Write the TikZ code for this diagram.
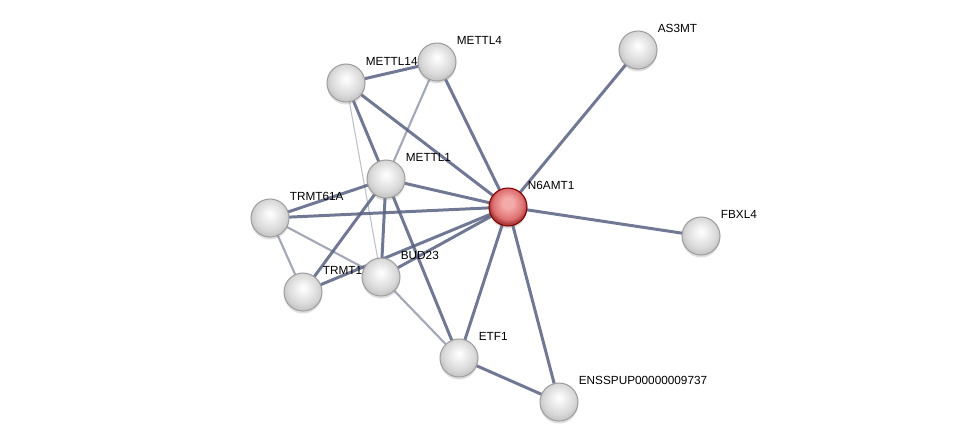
\documentclass[tikz,border=0pt]{standalone}
\usepackage{fontspec}
\setmainfont{Liberation Sans}
\usepackage{tikz}
\usetikzlibrary{backgrounds, shadows}

\definecolor{edgecol}{RGB}{88,96,128}
\definecolor{redlight}{RGB}{245,170,170}
\definecolor{redmid}{RGB}{222,112,112}
\definecolor{redrim}{RGB}{170,60,60}
\pgfdeclareradialshading{greysphere}{\pgfpoint{0bp}{6bp}}{color(0bp)=(white); color(6bp)=(gray!8); color(20bp)=(gray!30); color(25bp)=(gray!42); color(50bp)=(gray!45)}
\pgfdeclareradialshading{redsphere}{\pgfpoint{0bp}{6bp}}{color(0bp)=(redlight); color(7bp)=(redlight); color(20bp)=(redmid); color(25bp)=(redrim); color(50bp)=(redrim)}

\begin{document}
\begin{tikzpicture}[
    prot/.style={circle, minimum size=0.76cm, inner sep=0pt, draw=gray!75, line width=0.6pt, shading=greysphere,
        drop shadow={shadow xshift=0pt, shadow yshift=-0.05cm, opacity=0.25}},
    query/.style={prot, draw=red!50!black, shading=redsphere},
    lbl/.style={inner sep=0pt, label distance=0pt, yshift=0.44cm, font=\fontsize{6.7}{8}\selectfont},
    strong/.style={draw=edgecol, line width=1.7pt, opacity=0.85},
    medium/.style={draw=edgecol, line width=1.2pt, opacity=0.55},
    weak/.style={draw=edgecol, line width=0.6pt, opacity=0.4}
]
    \useasboundingbox (0,0) rectangle (19.52,-8.94);

    % Proteins
    \node[prot, label={[lbl]0:METTL4}] (mettl4) at (8.74,-1.24) {};
    \node[prot, label={[lbl]0:METTL14}] (mettl14) at (6.92,-1.66) {};
    \node[prot, label={[lbl]0:AS3MT}] (as3mt) at (12.76,-1.00) {};
    \node[prot, label={[lbl]0:METTL1}] (mettl1) at (7.72,-3.58) {};
    \node[query, label={[lbl]0:N6AMT1}] (n6amt1) at (10.16,-4.14) {};
    \node[prot, label={[lbl]0:TRMT61A}] (trmt61a) at (5.40,-4.36) {};
    \node[prot, label={[lbl]0:FBXL4}] (fbxl4) at (14.02,-4.72) {};
    \node[prot, label={[lbl]0:TRMT1}] (trmt1) at (6.06,-5.84) {};
    \node[prot, label={[lbl]0:BUD23}] (bud23) at (7.62,-5.54) {};
    \node[prot, label={[lbl]0:ETF1}] (etf1) at (9.18,-7.16) {};
    \node[prot, label={[lbl]0:ENSSPUP00000009737}] (ensspup) at (11.18,-8.04) {};

    % Interactions
    \begin{scope}[on background layer]
        \foreach \a/\b in {mettl4/n6amt1, mettl14/n6amt1, mettl1/n6amt1, trmt61a/n6amt1, bud23/n6amt1,
                           trmt1/n6amt1, etf1/n6amt1, ensspup/n6amt1, as3mt/n6amt1, fbxl4/n6amt1,
                           mettl14/mettl4, mettl14/mettl1, mettl1/trmt61a, mettl1/trmt1, mettl1/bud23,
                           mettl1/etf1, etf1/ensspup} {
            \draw[strong] (\a.center) -- (\b.center);
        }
        \foreach \a/\b in {mettl4/mettl1, trmt61a/trmt1, trmt61a/bud23, bud23/etf1} {
            \draw[medium] (\a.center) -- (\b.center);
        }
        \draw[weak] (mettl14.center) -- (bud23.center);
    \end{scope}

\end{tikzpicture}
\end{document}
